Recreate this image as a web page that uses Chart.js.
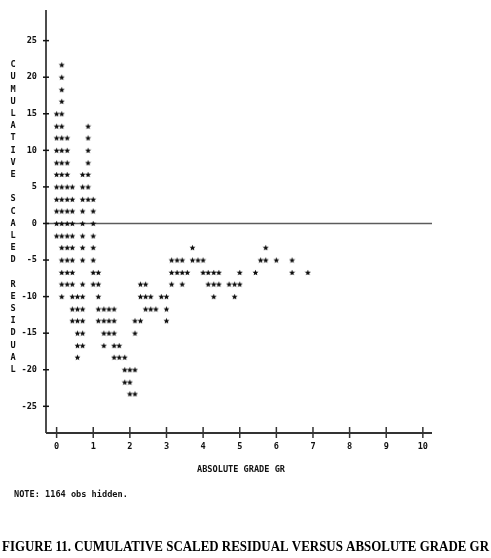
<!DOCTYPE html>
<html>
<head>
<meta charset="utf-8">
<title>Figure 11</title>
<script src="https://cdn.jsdelivr.net/npm/chart.js@4.4.1/dist/chart.umd.min.js"></script>
<style>
  html, body { margin: 0; padding: 0; background: #fff; }
  #chart { display: block; }
</style>
</head>
<body>
<canvas id="chart" width="491" height="558"></canvas>
<script>
// printed rows of the line-printer plot (residual value of each row)
const rowResidual = [21.7, 20, 18.3, 16.7, 15, 13.3, 11.7, 10, 8.3, 6.7, 5, 3.3, 1.7, 0,
  -1.7, -3.3, -5, -6.7, -8.3, -10, -11.7, -13.3, -15, -16.7, -18.3, -20, -21.7, -23.3];

// absolute grade of each '*' printed on that row
const rowGrades = [
  [0.14],
  [0.14],
  [0.14],
  [0.14],
  [0, 0.14],
  [0, 0.14, 0.86],
  [0, 0.14, 0.29, 0.86],
  [0, 0.14, 0.29, 0.86],
  [0, 0.14, 0.29, 0.86],
  [0, 0.14, 0.29, 0.71, 0.86],
  [0, 0.14, 0.29, 0.43, 0.71, 0.86],
  [0, 0.14, 0.29, 0.43, 0.71, 0.86, 1.0],
  [0, 0.14, 0.29, 0.43, 0.71, 1.0],
  [0, 0.14, 0.29, 0.43, 0.71, 1.0],
  [0, 0.14, 0.29, 0.43, 0.71, 1.0],
  [0.14, 0.29, 0.43, 0.71, 1.0, 3.71, 5.71],
  [0.14, 0.29, 0.43, 0.71, 1.0, 3.14, 3.29, 3.43, 3.71, 3.86, 4.0, 5.57, 5.71, 6.0, 6.43],
  [0.14, 0.29, 0.43, 1.0, 1.14, 3.14, 3.29, 3.43, 3.57, 4.0, 4.14, 4.29, 4.43, 5.0, 5.43, 6.43, 6.86],
  [0.14, 0.29, 0.43, 0.71, 1.0, 1.14, 2.29, 2.43, 3.14, 3.43, 4.14, 4.29, 4.43, 4.71, 4.86, 5.0],
  [0.14, 0.43, 0.57, 0.71, 1.14, 2.29, 2.43, 2.57, 2.86, 3.0, 4.29, 4.86],
  [0.43, 0.57, 0.71, 1.14, 1.29, 1.43, 1.57, 2.43, 2.57, 2.71, 3.0],
  [0.43, 0.57, 0.71, 1.14, 1.29, 1.43, 1.57, 2.14, 2.29, 3.0],
  [0.57, 0.71, 1.29, 1.43, 1.57, 2.14],
  [0.57, 0.71, 1.29, 1.57, 1.71],
  [0.57, 1.57, 1.71, 1.86],
  [1.86, 2.0, 2.14],
  [1.86, 2.0],
  [2.0, 2.14]
];

const xTicks = [0, 1, 2, 3, 4, 5, 6, 7, 8, 9, 10];
const yTicks = [25, 20, 15, 10, 5, 0, -5, -10, -15, -20, -25];

const yTitle = 'CUMULATIVE SCALED RESIDUAL';
const xTitle = 'ABSOLUTE GRADE GR';
const note = 'NOTE: 1164 obs hidden.';
const caption = 'FIGURE 11. CUMULATIVE SCALED RESIDUAL VERSUS ABSOLUTE GRADE GR';

const MONO = "bold 8.6px 'DejaVu Sans Mono', monospace";

// scatter points
const points = [];
rowResidual.forEach((res, i) => {
  rowGrades[i].forEach(g => points.push({ x: g, y: res }));
});

// little printed asterisk used as point style
function makeStar() {
  const c = document.createElement('canvas');
  c.width = 7; c.height = 7;
  const g = c.getContext('2d');
  g.fillStyle = '#0c0c0c';
  g.beginPath();
  for (let i = 0; i < 10; i++) {
    const r = i % 2 ? 1.4 : 3.1;
    const a = -Math.PI / 2 + i * Math.PI / 5;
    const px = 3.5 + r * Math.cos(a), py = 3.8 + r * Math.sin(a);
    if (i === 0) g.moveTo(px, py); else g.lineTo(px, py);
  }
  g.closePath();
  g.fill();
  return c;
}

const printerPlot = {
  id: 'printerPlot',
  beforeDatasetsDraw(chart) {
    const { ctx, chartArea: a, scales: { x, y } } = chart;
    ctx.save();
    // reference line at 0
    const y0 = y.getPixelForValue(0);
    ctx.strokeStyle = '#5c5c5c';
    ctx.lineWidth = 1.6;
    ctx.beginPath(); ctx.moveTo(a.left, y0); ctx.lineTo(a.right, y0); ctx.stroke();

    // vertical axis (runs a little above the plot rows) + ticks
    ctx.strokeStyle = '#111';
    ctx.lineWidth = 1.5;
    ctx.beginPath(); ctx.moveTo(a.left, 10); ctx.lineTo(a.left, a.bottom); ctx.stroke();
    yTicks.forEach(v => {
      const py = y.getPixelForValue(v);
      ctx.beginPath(); ctx.moveTo(a.left - 3, py); ctx.lineTo(a.left + 3, py); ctx.stroke();
    });

    // horizontal axis + ticks
    ctx.strokeStyle = '#333';
    ctx.lineWidth = 2;
    ctx.beginPath(); ctx.moveTo(a.left, a.bottom); ctx.lineTo(a.right, a.bottom); ctx.stroke();
    ctx.lineWidth = 1.5;
    xTicks.forEach(v => {
      const px = x.getPixelForValue(v);
      ctx.beginPath(); ctx.moveTo(px, a.bottom - 6); ctx.lineTo(px, a.bottom + 5); ctx.stroke();
    });
    ctx.restore();
  },
  afterDraw(chart) {
    const { ctx, chartArea: a, scales: { y } } = chart;
    ctx.save();
    ctx.fillStyle = '#111';
    ctx.font = MONO;
    ctx.textAlign = 'center';
    ctx.textBaseline = 'middle';
    // stacked vertical label, one letter per printed row
    [...yTitle].forEach((ch, i) => {
      ctx.fillText(ch, 13, y.getPixelForValue((13 - i) * 5 / 3));
    });
    ctx.fillText(xTitle, (a.left + a.right) / 2 + 2, 470);

    ctx.textAlign = 'left';
    ctx.textBaseline = 'alphabetic';
    ctx.fillText(note, 14, 497);

    // figure caption stretched to the page width
    ctx.font = "bold 13.6px 'Liberation Serif', 'Times New Roman', serif";
    ctx.fillStyle = '#000';
    const w = ctx.measureText(caption).width;
    ctx.translate(2, 550.5);
    ctx.scale(487 / w, 1);
    ctx.fillText(caption, 0, 0);
    ctx.restore();
  }
};

new Chart(document.getElementById('chart'), {
  type: 'scatter',
  data: {
    datasets: [{
      data: points,
      pointStyle: makeStar(),
      pointRadius: 3,
      pointHoverRadius: 3
    }]
  },
  options: {
    responsive: false,
    animation: false,
    events: [],
    layout: { autoPadding: false, padding: { top: 6, right: 59, bottom: 101, left: 0 } },
    plugins: { legend: { display: false }, tooltip: { enabled: false } },
    scales: {
      x: {
        type: 'linear',
        position: 'bottom',
        min: -0.29,
        max: 10.25,
        afterBuildTicks: s => { s.ticks = xTicks.map(v => ({ value: v })); },
        afterFit: s => { s.height = 24; },
        grid: { display: false, drawTicks: false },
        border: { display: false },
        ticks: { color: '#111', font: { family: "'DejaVu Sans Mono', monospace", size: 8.6, weight: 'bold' }, padding: 9, maxRotation: 0 }
      },
      y: {
        type: 'linear',
        min: -28.65,
        max: 28.62,
        afterBuildTicks: s => { s.ticks = yTicks.map(v => ({ value: v })); },
        afterFit: s => { s.width = 46; },
        grid: { display: false, drawTicks: false },
        border: { display: false },
        ticks: { color: '#111', font: { family: "'DejaVu Sans Mono', monospace", size: 8.6, weight: 'bold' }, padding: 9 }
      }
    }
  },
  plugins: [printerPlot]
});
</script>
</body>
</html>
